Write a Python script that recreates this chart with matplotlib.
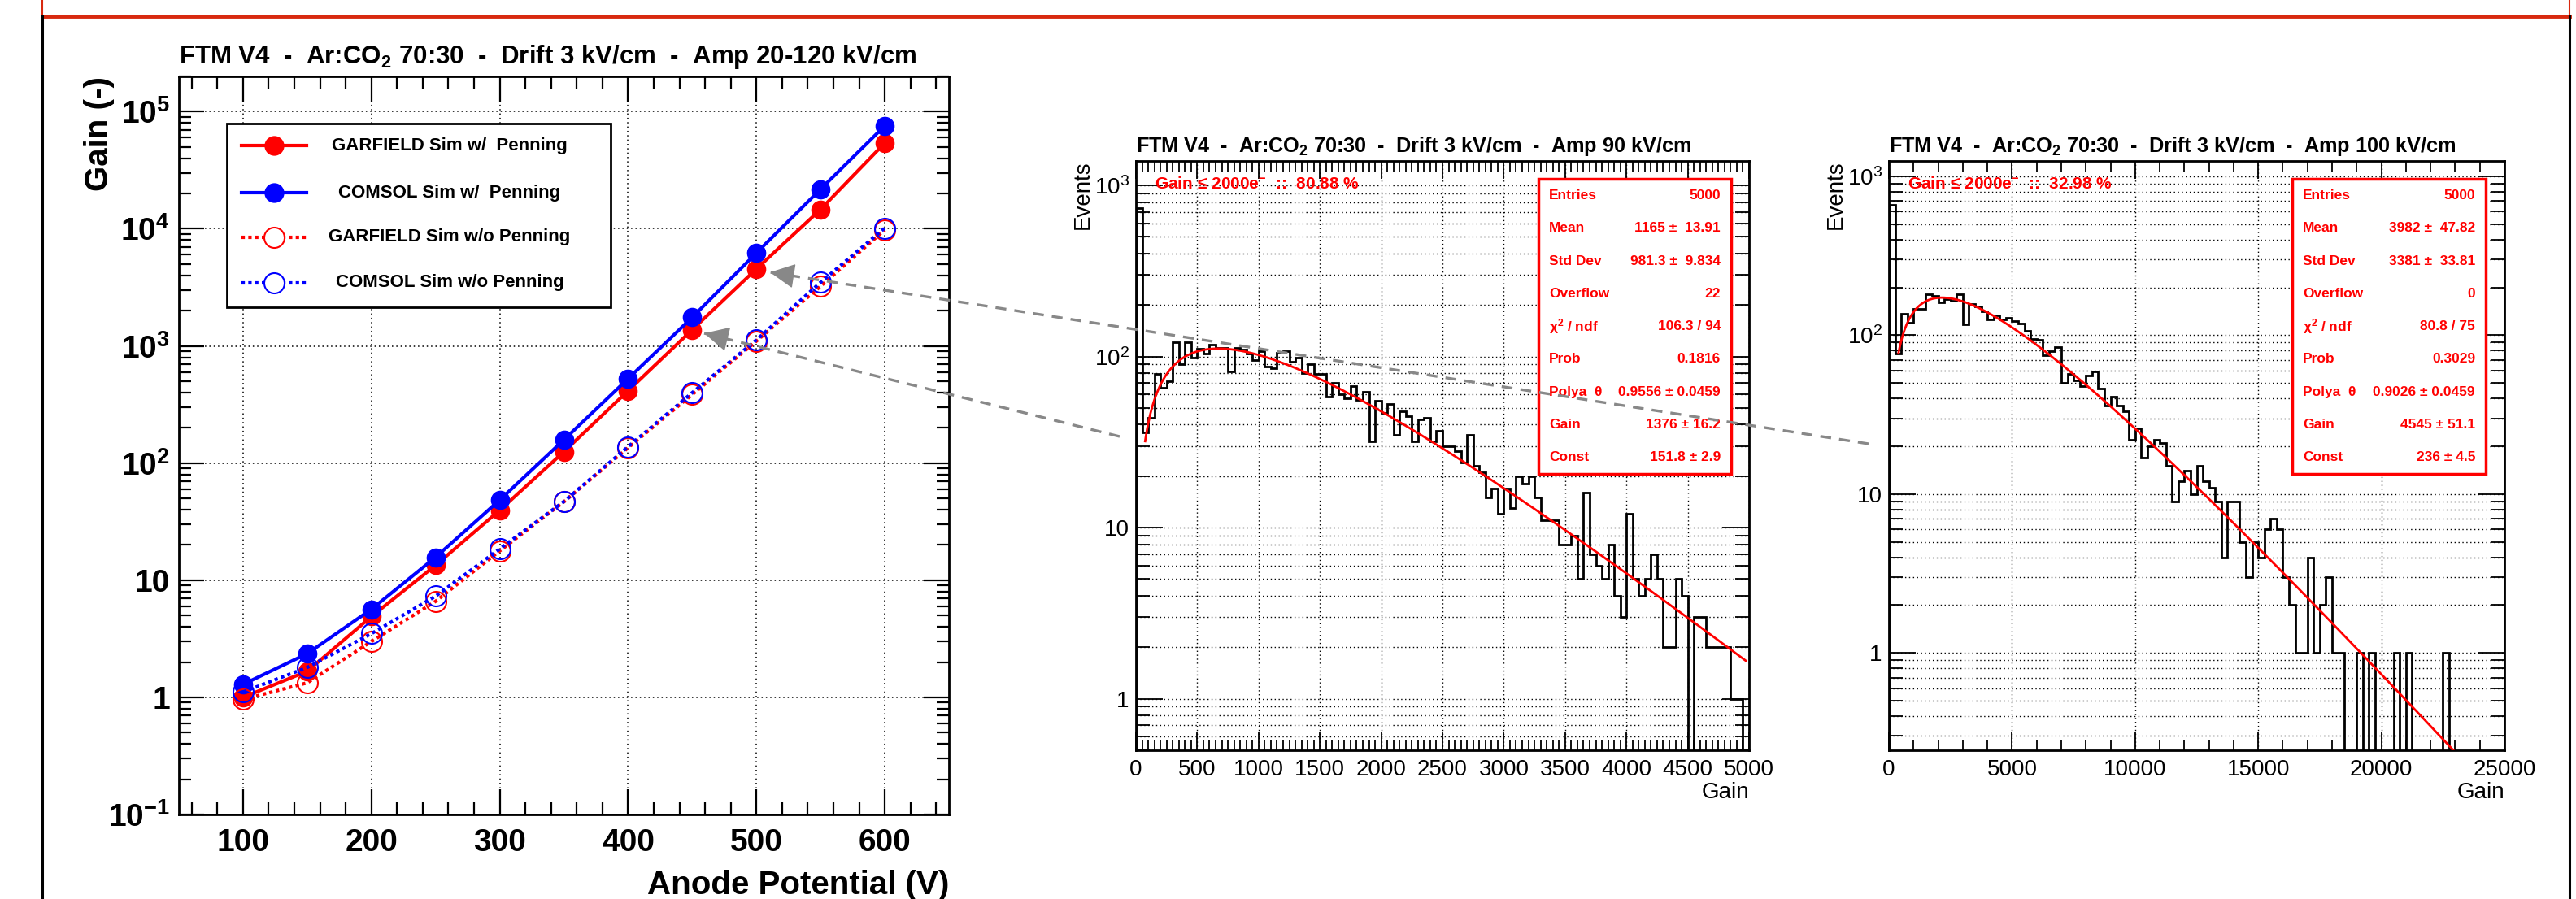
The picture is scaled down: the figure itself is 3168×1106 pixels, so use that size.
import math
import numpy as np
import matplotlib
matplotlib.use("Agg")
import matplotlib.pyplot as plt
from matplotlib.lines import Line2D
from matplotlib.patches import Rectangle, FancyArrowPatch
from matplotlib.ticker import MultipleLocator, LogLocator, NullFormatter

W, H = 3168, 1106

plt.rcParams['font.family'] = ['Liberation Sans', 'DejaVu Sans']
plt.rcParams['mathtext.fontset'] = 'custom'
plt.rcParams['mathtext.rm'] = 'Liberation Sans'
plt.rcParams['mathtext.bf'] = 'Liberation Sans:bold'
plt.rcParams['mathtext.it'] = 'Liberation Sans:italic'
plt.rcParams['mathtext.sf'] = 'Liberation Sans'

# gain vs anode potential (left panel)
anode_v = [100, 150, 200, 250, 300, 350, 400, 450, 500, 550, 600]
garfield_pen = [1.0, 1.67, 4.9, 13.4, 39.6, 125, 414, 1376, 4545, 14650, 54000]
comsol_pen = [1.29, 2.36, 5.65, 15.7, 48.4, 158, 525, 1755, 6220, 21800, 75700]
garfield_nopen = [0.96, 1.33, 3.0, 6.6, 17.8, 46.7, 135, 385, 1100, 3230, 9800]
comsol_nopen = [1.11, 1.8, 3.5, 7.3, 18.5, 47, 138, 399, 1125, 3490, 10150]

# gain spectra, 100 bins each
edges_90 = np.linspace(0, 5000, 101)
counts_90 = [738, 36, 44, 79, 66, 72, 121, 90, 121, 99,
             111, 104, 117, 112, 112, 82, 112, 110, 104, 95,
             107, 87, 85, 105, 108, 93, 98, 80, 90, 79,
             79, 58, 70, 60, 57, 67, 56, 62, 32, 55,
             47, 53, 35, 48, 45, 32, 43, 44, 32, 37,
             30, 30, 28, 24, 35, 23, 21, 15, 17, 12,
             17, 13, 20, 18, 20, 15, 11, 11, 11, 8,
             8, 9, 5, 16, 7, 6, 5, 8, 4, 3,
             12, 5, 4, 5, 7, 5, 2, 2, 5, 4,
             0, 3, 3, 2, 2, 2, 2, 1, 1, 0]
edges_100 = np.linspace(0, 25000, 101)
counts_100 = [665, 77, 137, 120, 146, 146, 180, 176, 160, 169,
              165, 181, 117, 157, 152, 141, 125, 133, 125, 129,
              123, 118, 107, 95, 94, 75, 79, 84, 50, 57,
              52, 48, 56, 59, 46, 36, 41, 36, 33, 22,
              26, 17, 20, 22, 21, 15, 9, 12, 14, 10,
              15, 12, 11, 9, 4, 9, 9, 5, 3, 5,
              4, 6, 7, 6, 3, 2, 1, 1, 4, 1,
              2, 3, 1, 1, 0, 0, 1, 0, 1, 0,
              0, 0, 1, 0, 1, 0, 0, 0, 0, 0,
              1, 0, 0, 0, 0, 0, 0, 0, 0, 0]

# Polya fit results: theta, gain, const
fit_90 = (0.9556, 1376, 151.8)
fit_100 = (0.9026, 4545, 236)

stat_names = ['Entries', 'Mean', 'Std Dev', 'Overflow', 'χ$^{\\mathbf{2}}$ / ndf',
              'Prob', 'Polya  θ', 'Gain', 'Const']
stat_90 = ['5000', '1165 ±  13.91', '981.3 ±  9.834', '22', '106.3 / 94',
           '0.1816', '0.9556 ± 0.0459', '1376 ± 16.2', '151.8 ± 2.9']
stat_100 = ['5000', '3982 ±  47.82', '3381 ±  33.81', '0', '80.8 / 75',
            '0.3029', '0.9026 ± 0.0459', '4545 ± 51.1', '236 ± 4.5']


def fb(x0, y0, x1, y1):
    return [x0 / W, 1 - y1 / H, (x1 - x0) / W, (y1 - y0) / H]


def fp(x, y):
    return (x / W, 1 - y / H)


def polya(x, th, g, c):
    return c * (th + 1) ** (th + 1) / math.gamma(th + 1) * (x / g) ** th * np.exp(-(th + 1) * x / g)


fig = plt.figure(figsize=(W / 100, H / 100), dpi=100)

# slide frame
red_frame = '#d8290f'
fig.add_artist(Line2D([52 / W, 3160 / W], [1 - 20 / H, 1 - 20 / H], color=red_frame, lw=3.5))
for xx in (52, 3160):
    fig.add_artist(Line2D([xx / W, xx / W], [1, 1 - 20 / H], color=red_frame, lw=1.5))
    fig.add_artist(Line2D([xx / W, xx / W], [1 - 20 / H, 0], color='black', lw=2.2))

# ---------------- left: gain curves ----------------
ax = fig.add_axes(fb(220, 94, 1167, 1002))
ax.set_yscale('log')
ax.plot(anode_v, garfield_pen, color='#ff0000', lw=3, marker='o', ms=16, zorder=3)
ax.plot(anode_v, comsol_pen, color='#0000ff', lw=3, marker='o', ms=16, zorder=3)
ax.plot(anode_v, garfield_nopen, color='#ff0000', lw=3, ls=(0, (1, 1)), marker='o', ms=18,
        mfc='none', mew=1.5, zorder=3)
ax.plot(anode_v, comsol_nopen, color='#0000ff', lw=3, ls=(0, (1, 1)), marker='o', ms=18,
        mfc='none', mew=1.5, zorder=3)
ax.set_xlim(50, 650)
ax.set_ylim(0.1, 2.0e5)
ax.set_xticks([100, 200, 300, 400, 500, 600])
ax.set_xticklabels(['100', '200', '300', '400', '500', '600'], fontsize=28, fontweight='bold')
ax.xaxis.set_minor_locator(MultipleLocator(20))
ax.set_yticks([0.1, 1, 10, 100, 1e3, 1e4, 1e5])
ax.set_yticklabels(['$\\mathbf{10^{-1}}$', '1', '10', '$\\mathbf{10^{2}}$', '$\\mathbf{10^{3}}$',
                    '$\\mathbf{10^{4}}$', '$\\mathbf{10^{5}}$'], fontsize=28, fontweight='bold')
ax.yaxis.set_minor_locator(LogLocator(base=10, subs=np.arange(2, 10)))
ax.yaxis.set_minor_formatter(NullFormatter())
ax.tick_params(which='both', direction='in', top=True, right=True, width=1.6)
ax.tick_params(which='major', length=22)
ax.tick_params(which='minor', length=11)
ax.tick_params(axis='x', pad=12)
ax.tick_params(axis='y', pad=8)
ax.grid(True, which='major', ls=(0, (1, 2.5)), color='black', lw=1.1)
for s in ax.spines.values():
    s.set_linewidth(2)

fig.text(220 / W, 1 - 70 / H, 'FTM V4  -  Ar:CO$_{\\mathbf{2}}$ 70:30  -  Drift 3 kV/cm  -  Amp 20-120 kV/cm',
         fontsize=22.5, fontweight='bold', va='center')
fig.text(122 / W, 1 - 94 / H, 'Gain (-)', rotation=90, fontsize=29, fontweight='bold',
         ha='center', va='top')
fig.text(1167 / W, 1 - 1089 / H, 'Anode Potential (V)', fontsize=29, fontweight='bold',
         ha='right', va='center')

# legend drawn by hand (ROOT TLegend look)
fig.add_artist(Rectangle(fp(279, 378), 472 / W, 226 / H, transform=fig.transFigure,
                         facecolor='white', edgecolor='black', lw=2, zorder=4))
leg_rows = [179, 237, 292, 348]
leg_text = ['GARFIELD Sim w/  Penning', 'COMSOL Sim w/  Penning',
            'GARFIELD Sim w/o Penning', 'COMSOL Sim w/o Penning']
leg_color = ['#ff0000', '#0000ff', '#ff0000', '#0000ff']
leg_open = [False, False, True, True]
for yy, txt, col, op in zip(leg_rows, leg_text, leg_color, leg_open):
    ls = (0, (1, 1)) if op else '-'
    fig.add_artist(Line2D([297 / W, 377 / W], [1 - yy / H] * 2, color=col, lw=3, ls=ls, zorder=5))
    fig.add_artist(Line2D([337 / W], [1 - yy / H], color=col, marker='o',
                          ms=18 if op else 16, mfc='white' if op else col, mew=1.5, zorder=5))
    fig.text(553 / W, 1 - yy / H, txt, fontsize=16, fontweight='bold', ha='center',
             va='center', zorder=6)


# ---------------- histogram panels ----------------
def hist_panel(rect, edges, counts, fit, xmax, ymin, ymax, major, minor, title, frac_text, tx, stat_vals, bx0, bx1):
    a = fig.add_axes(fb(*rect))
    a.set_yscale('log')
    c = np.array(counts, dtype=float)
    a.stairs(np.where(c > 0, c, 1e-3), edges, baseline=1e-3, color='black', lw=2.0, zorder=3)
    xs = np.linspace(fit[3], fit[4], 600)
    a.plot(xs, polya(xs, fit[0], fit[1], fit[2]), color='#ff0000', lw=2.0, zorder=4)
    a.set_xlim(0, xmax)
    a.set_ylim(ymin, ymax)
    a.xaxis.set_major_locator(MultipleLocator(major))
    a.xaxis.set_minor_locator(MultipleLocator(minor))
    a.set_yticks([1, 10, 100, 1000])
    a.set_yticklabels(['1', '10', '$10^{2}$', '$10^{3}$'])
    a.yaxis.set_minor_locator(LogLocator(base=10, subs=np.arange(2, 10)))
    a.yaxis.set_minor_formatter(NullFormatter())
    a.tick_params(labelsize=20)
    a.tick_params(which='both', direction='in', top=True, right=True, width=1.3)
    a.tick_params(axis='x', which='major', length=16, pad=8)
    a.tick_params(axis='x', which='minor', length=9)
    a.tick_params(axis='y', which='major', length=24, pad=6)
    a.tick_params(axis='y', which='minor', length=12)
    a.grid(True, axis='x', which='major', ls=(0, (1, 2.5)), color='black', lw=1.0)
    a.grid(True, axis='y', which='both', ls=(0, (1, 2.5)), color='black', lw=1.0)
    for s in a.spines.values():
        s.set_linewidth(2)
    x0, y0, x1, y1 = rect
    fig.text(x0 / W, 1 - 180 / H, title, fontsize=18.2, fontweight='bold', va='center')
    fig.text((x0 - 65) / W, 1 - 197 / H, 'Events', rotation=90, fontsize=20, ha='center', va='top')
    fig.text(x1 / W, 1 - 975 / H, 'Gain', fontsize=20, ha='right', va='center')
    fig.text(tx / W, 1 - 227 / H, frac_text, fontsize=15, fontweight='bold', color='#ff0000',
             va='center', zorder=6)
    # stats box
    fig.add_artist(Rectangle(fp(bx0, 583), (bx1 - bx0) / W, 363 / H, transform=fig.transFigure,
                             facecolor='white', edgecolor='#ff0000', lw=2.5, zorder=5))
    rows = np.linspace(240.7, 562.7, 9)
    for yy, nm, vv in zip(rows, stat_names, stat_vals):
        fig.text((bx0 + 13) / W, 1 - yy / H, nm, fontsize=12.5, fontweight='bold', color='#ff0000',
                 va='center', zorder=6)
        fig.text((bx1 - 13) / W, 1 - yy / H, vv, fontsize=12.5, fontweight='bold', color='#ff0000',
                 va='center', ha='right', zorder=6)
    return a


hist_panel((1397, 198, 2151, 923), edges_90, counts_90, fit_90 + (75, 4975), 5000, 0.5, 1390, 500, 50,
           'FTM V4  -  Ar:CO$_{\\mathbf{2}}$ 70:30  -  Drift 3 kV/cm  -  Amp 90 kV/cm',
           'Gain ≤ 2000e$^{\\mathbf{-}}$  ::  80.88 %', 1420, stat_90, 1892, 2129)
hist_panel((2323, 198, 3080, 923), edges_100, counts_100, fit_100 + (390, 25000), 25000, 0.244, 1250, 5000, 1000,
           'FTM V4  -  Ar:CO$_{\\mathbf{2}}$ 70:30  -  Drift 3 kV/cm  -  Amp 100 kV/cm',
           'Gain ≤ 2000e$^{\\mathbf{-}}$  ::  32.98 %', 2346, stat_100, 2819, 3057)


# gray dashed arrows linking spectra to the gain points
def dashed_arrow(xa, ya, xb, yb):
    fig.add_artist(Line2D([xa / W, xb / W], [1 - ya / H, 1 - yb / H], color='#888888', lw=2.4,
                          ls=(0, (4, 3)), zorder=10))
    d = np.array([xb - xa, yb - ya], dtype=float)
    d /= np.hypot(*d)
    xs, ys = xb - 24 * d[0], yb - 24 * d[1]
    fig.add_artist(FancyArrowPatch(fp(xs, ys), fp(xb, yb), transform=fig.transFigure,
                                   arrowstyle='-|>,head_length=0.7,head_width=0.35', mutation_scale=28,
                                   color='#888888', lw=1, shrinkA=0, shrinkB=0, zorder=10))


dashed_arrow(1377, 537, 866, 410)
dashed_arrow(2298, 546, 947, 335)

fig.savefig('out.png', dpi=100)
